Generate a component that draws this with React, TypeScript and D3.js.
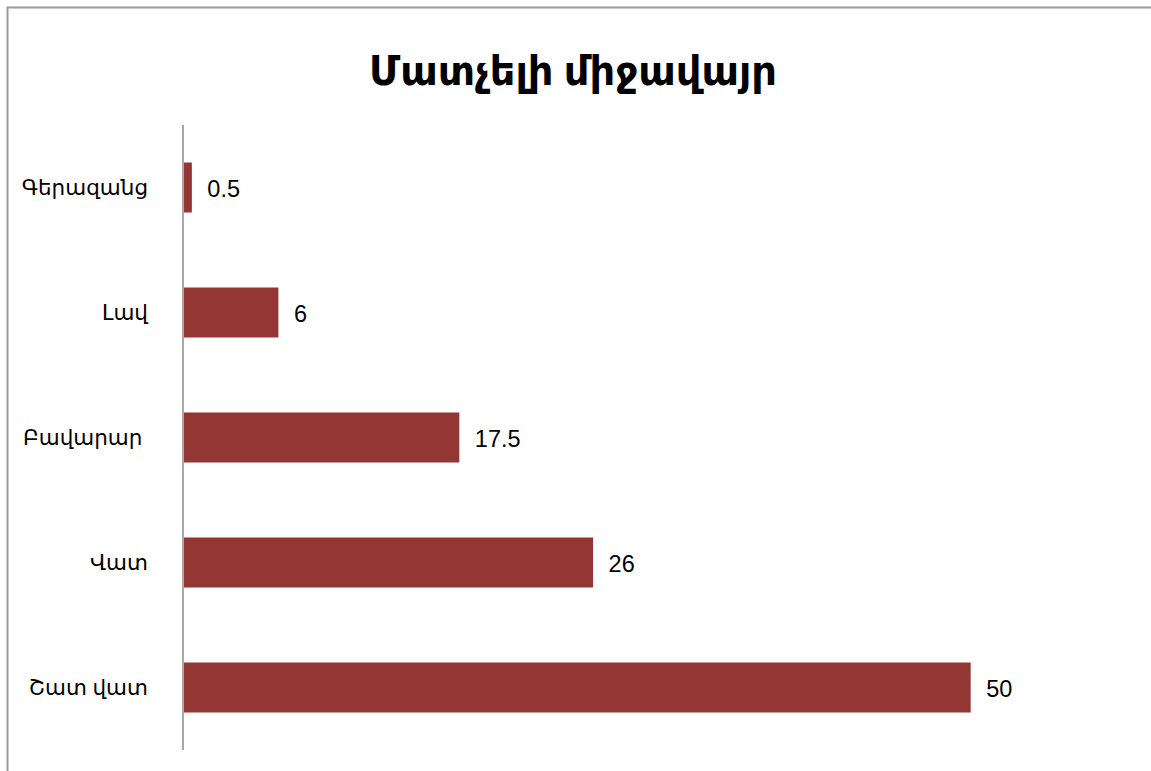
import React from "react";
import * as d3 from "d3";

const categories = ["Գերազանց", "Լավ", "Բավարար ", "Վատ", "Շատ վատ"];
const values = [0.5, 6, 17.5, 26, 50];
const title = "Մատչելի միջավայր";

const W = 1151;
const H = 771;

export default function App() {
  const x = d3.scaleLinear().domain([0, 60]).range([184, 1128]);
  const y = d3.scaleBand<string>().domain(categories).range([125, 750]).paddingInner(0.6).paddingOuter(0.3);
  const barColor = "#943634";
  return (
    <svg width={W} height={H} style={{ position: "absolute", left: 0, top: 0, background: "#fff" }}>
      <rect x={7.5} y={7.5} width={W + 10} height={H + 10} fill="#fff" stroke="#9a9a9a" strokeWidth={2} />
      <text x={573} y={85} textAnchor="middle" fontFamily="'Noto Sans', 'DejaVu Sans', sans-serif" fontWeight="bold" fontSize={40} fill="#000">{title}</text>
      {categories.map((c, i) => {
        const yy = y(c)!;
        const bh = y.bandwidth();
        return (
          <g key={c}>
            <rect x={x(0)} y={yy} width={x(values[i]) - x(0)} height={bh} fill={barColor} />
            <text x={x(values[i]) + 15.5} y={yy + bh / 2 + 1} dy="0.35em" fontFamily="'Liberation Sans', Arial, sans-serif" fontSize={23.5} fill="#000">{values[i]}</text>
            <text x={148} y={yy + bh / 2} dy="0.35em" textAnchor="end" fontFamily="'Noto Sans', 'DejaVu Sans', sans-serif" fontSize={21.5} fill="#000" style={{ whiteSpace: "pre" }}>{c}</text>
          </g>
        );
      })}
      <line x1={183} x2={183} y1={125} y2={750} stroke="#8c8c8c" strokeWidth={1.5} />
    </svg>
  );
}
